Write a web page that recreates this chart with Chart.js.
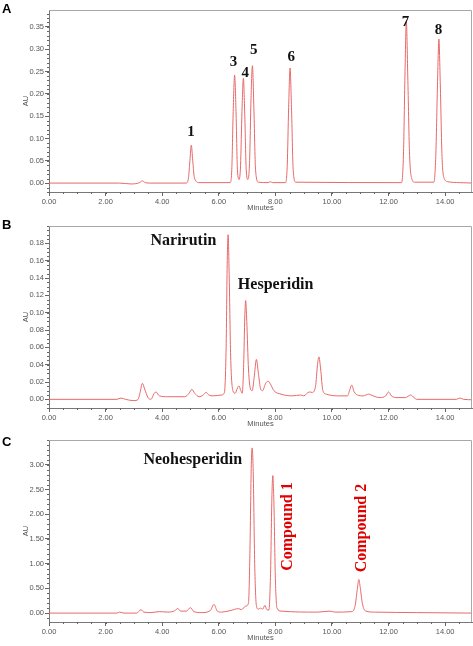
<!DOCTYPE html>
<html>
<head>
<meta charset="utf-8">
<script src="https://cdn.jsdelivr.net/npm/chart.js@4/dist/chart.umd.min.js"></script>
<style>
  body { margin: 0; background: #fff; width: 473px; height: 646px; position: relative; overflow: hidden; }
  .panel { position: absolute; left: 0; width: 473px; }
  .tag { position: absolute; left: 2px; font: bold 13px "Liberation Sans", Arial, sans-serif; color: #000; }
</style>
</head>
<body>
<div class="panel" style="top:0;height:214px"><canvas id="chartA" width="473" height="214"></canvas></div>
<div class="panel" style="top:214px;height:214px"><canvas id="chartB" width="473" height="214"></canvas></div>
<div class="panel" style="top:428px;height:218px"><canvas id="chartC" width="473" height="218"></canvas></div>
<div class="tag" style="top:1px">A</div>
<div class="tag" style="top:217px">B</div>
<div class="tag" style="top:434px">C</div>
<script>
// shared time axis ticks (minutes)
var xTicks = [0, 2, 4, 6, 8, 10, 12, 14];

// panel A: standard mixture
var timeA = [0, 2.5, 2.9, 3.2, 3.3, 3.4, 3.6, 4.85, 4.93, 4.98, 5.03, 5.08, 5.14, 5.3,
  6.4, 6.46, 6.51, 6.56, 6.61, 6.66, 6.72, 6.77, 6.82, 6.87, 6.92, 6.97, 7.03, 7.09, 7.14, 7.19, 7.24, 7.3, 7.4,
  7.75, 7.82, 7.9, 8.36, 8.42, 8.47, 8.52, 8.57, 8.63, 8.72,
  12.46, 12.53, 12.58, 12.63, 12.68, 12.74, 12.82, 12.92,
  13.6, 13.67, 13.73, 13.78, 13.83, 13.89, 13.97, 14.1, 14.5, 15];
var auA = [0, 0, -0.002, 0.001, 0.005, 0.001, 0, 0, 0.012, 0.05, 0.085, 0.05, 0.012, 0.001,
  0.001, 0.03, 0.16, 0.242, 0.16, 0.03, 0.008, 0.04, 0.16, 0.235, 0.15, 0.03, 0.008, 0.05, 0.19, 0.263, 0.17, 0.03, 0.002,
  0.001, 0.003, 0.001, 0.001, 0.04, 0.17, 0.258, 0.17, 0.03, 0.002,
  0.001, 0.07, 0.24, 0.362, 0.24, 0.07, 0.01, 0.002,
  0.002, 0.06, 0.22, 0.323, 0.22, 0.06, 0.01, 0.003, 0.001, 0];
var yTicksA = [0, 0.05, 0.1, 0.15, 0.2, 0.25, 0.3, 0.35];

// panel B: sample extract
var timeB = [0, 2.4, 2.55, 2.7, 3.0, 3.15, 3.22, 3.3, 3.38, 3.5, 3.6, 3.72, 3.78, 3.9, 4.2, 4.8,
  4.95, 5.05, 5.15, 5.3, 5.45, 5.55, 5.65, 5.8, 6.1, 6.2, 6.26, 6.3, 6.33, 6.37, 6.42, 6.5,
  6.58, 6.66, 6.71, 6.78, 6.83, 6.88, 6.92, 6.95, 6.99, 7.05, 7.12, 7.18, 7.25, 7.33, 7.4, 7.48,
  7.55, 7.65, 7.74, 7.82, 7.95, 8.2, 8.6, 8.9, 9.0, 9.2, 9.3, 9.42, 9.49, 9.54, 9.6, 9.68, 9.8,
  10.2, 10.55, 10.63, 10.7, 10.78, 10.9, 11.1, 11.3, 11.45, 11.7, 11.9, 12.0, 12.1, 12.3, 12.6,
  12.78, 12.9, 13.0, 14.4, 14.52, 14.65, 15];
var auB = [0, 0, 0.0015, 0, -0.0015, 0, 0.008, 0.0185, 0.012, 0.002, 0, 0.007, 0.0085, 0.004, 0.003, 0.003,
  0.007, 0.0115, 0.007, 0.003, 0.005, 0.008, 0.005, 0.004, 0.005, 0.008, 0.06, 0.16, 0.19, 0.14, 0.05, 0.01,
  0.007, 0.013, 0.0155, 0.01, 0.007, 0.04, 0.095, 0.114, 0.09, 0.035, 0.012, 0.01, 0.025, 0.046, 0.03, 0.012,
  0.01, 0.018, 0.021, 0.018, 0.01, 0.006, 0.004, 0.005, 0.004, 0.0085, 0.008, 0.015, 0.04, 0.049, 0.035, 0.01, 0.006,
  0.004, 0.004, 0.011, 0.0165, 0.009, 0.005, 0.004, 0.006, 0.004, 0.002, 0.004, 0.0085, 0.004, 0.002, 0.002,
  0.005, 0.002, 0, 0, 0.0015, 0, -0.0005];
var yTicksB = [0, 0.02, 0.04, 0.06, 0.08, 0.1, 0.12, 0.14, 0.16, 0.18];

// panel C: neohesperidin sample
var timeC = [0, 2.4, 2.5, 2.65, 3.1, 3.25, 3.35, 3.6, 3.9, 4.2, 4.45, 4.55, 4.65, 4.85, 5.0, 5.12,
  5.4, 5.7, 5.83, 5.95, 6.1, 6.4, 6.7, 6.8, 6.95, 7.05, 7.1, 7.15, 7.18, 7.22, 7.27, 7.33,
  7.4, 7.48, 7.55, 7.63, 7.7, 7.77, 7.83, 7.88, 7.91, 7.95, 8.0, 8.06, 8.2, 9.5, 9.93, 10.1,
  10.7, 10.82, 10.9, 10.95, 11.0, 11.08, 11.2, 11.5, 13, 15];
var auC = [0, 0, 0.02, 0, 0, 0.07, 0.02, 0.01, 0.03, 0.02, 0.05, 0.095, 0.04, 0.04, 0.11, 0.03,
  0.01, 0.05, 0.175, 0.04, 0.02, 0.05, 0.09, 0.07, 0.14, 0.2, 1.2, 3.0, 3.34, 2.8, 1.0, 0.15,
  0.08, 0.1, 0.08, 0.155, 0.07, 0.06, 0.8, 2.4, 2.78, 2.2, 0.7, 0.1, 0.04, 0.02, 0.04, 0.02,
  0.03, 0.15, 0.5, 0.68, 0.52, 0.18, 0.04, 0.02, 0.01, 0];
var yTicksC = [0, 0.5, 1, 1.5, 2, 2.5, 3];

var lineColor = 'rgb(232,104,104)';
var tickFont = { family: '"Liberation Sans", Arial, sans-serif', size: 7.5 };
var serif = '"Liberation Serif", "Times New Roman", serif';

// peak labels, placed in data units
var labelsA = [
  { t: '1', x: 5.02, y: 0.115 }, { t: '3', x: 6.52, y: 0.272 }, { t: '4', x: 6.94, y: 0.246 },
  { t: '5', x: 7.24, y: 0.297 }, { t: '6', x: 8.56, y: 0.283 }, { t: '7', x: 12.6, y: 0.361 },
  { t: '8', x: 13.77, y: 0.343 }
].map(function (l) { l.size = 15; return l; });
var labelsB = [
  { t: 'Narirutin', x: 4.75, y: 0.183, size: 16 },
  { t: 'Hesperidin', x: 8.01, y: 0.132, size: 16 }
];
var labelsC = [
  { t: 'Neohesperidin', x: 5.08, y: 3.09, size: 16 },
  { t: 'Compound 1', x: 8.45, y: 1.75, size: 16, color: '#e00000', rot: true },
  { t: 'Compound 2', x: 11.05, y: 1.72, size: 16, color: '#e00000', rot: true }
];

var decor = {
  id: 'decor',
  afterDraw: function (chart, args, o) {
    var c = chart.ctx, a = chart.chartArea, xs = chart.scales.x, ys = chart.scales.y, v, p;
    c.save();
    c.strokeStyle = '#a8a8a8';
    c.lineWidth = 1;
    c.beginPath();
    c.moveTo(a.left, a.top + 0.5); c.lineTo(a.right - 0.5, a.top + 0.5); c.lineTo(a.right - 0.5, a.bottom);
    c.stroke();
    // minor ticks
    c.strokeStyle = '#666';
    c.beginPath();
    for (v = 0; v <= xs.max + 1e-9; v += 0.5) {
      p = Math.round(xs.getPixelForValue(v)) + 0.5;
      c.moveTo(p, a.bottom); c.lineTo(p, a.bottom + 2);
    }
    for (v = 0; v <= ys.max + 1e-9; v += o.minor) {
      p = Math.round(ys.getPixelForValue(v)) + 0.5;
      c.moveTo(a.left, p); c.lineTo(a.left - 2, p);
    }
    for (v = -o.minor; v >= ys.min - 1e-9; v -= o.minor) {
      p = Math.round(ys.getPixelForValue(v)) + 0.5;
      c.moveTo(a.left, p); c.lineTo(a.left - 2, p);
    }
    c.stroke();
    // labels
    o.labels.forEach(function (l) {
      var px = xs.getPixelForValue(l.x), py = ys.getPixelForValue(l.y);
      c.save();
      c.translate(px, py);
      if (l.rot) c.rotate(-Math.PI / 2);
      c.fillStyle = l.color || '#111';
      c.font = 'bold ' + l.size + 'px ' + serif;
      c.textAlign = 'center';
      c.textBaseline = 'middle';
      c.fillText(l.t, 0, 0);
      c.restore();
    });
    c.restore();
  }
};

function makeChart(id, time, au, yTicks, ymin, ymax, minor, pad, labels) {
  var pts = time.map(function (t, i) { return { x: t, y: au[i] }; });
  return new Chart(document.getElementById(id), {
    type: 'line',
    data: { datasets: [{ data: pts, borderColor: lineColor, borderWidth: 1, pointRadius: 0, cubicInterpolationMode: 'monotone' }] },
    options: {
      responsive: false,
      animation: false,
      layout: { padding: { top: pad[0], right: 1, bottom: pad[1], left: 21 } },
      plugins: { legend: { display: false }, tooltip: { enabled: false }, decor: { minor: minor, labels: labels } },
      scales: {
        x: {
          type: 'linear', min: 0, max: 14.95,
          afterBuildTicks: function (s) { s.ticks = xTicks.map(function (v) { return { value: v }; }); },
          afterFit: function (s) { s.height = 20; },
          ticks: { font: tickFont, color: '#555', padding: 1, maxRotation: 0, autoSkip: false, callback: function (v) { return v.toFixed(2); } },
          grid: { drawOnChartArea: false, tickLength: 4, color: '#666' },
          border: { color: '#777' },
          title: { display: true, text: 'Minutes', font: tickFont, color: '#555', padding: 0 }
        },
        y: {
          min: ymin, max: ymax,
          afterBuildTicks: function (s) { s.ticks = yTicks.map(function (v) { return { value: v }; }); },
          afterFit: function (s) { s.width = 28; },
          ticks: { font: tickFont, color: '#555', padding: 1, autoSkip: false, callback: function (v) { return v.toFixed(2); } },
          grid: { drawOnChartArea: false, tickLength: 4, color: '#666' },
          border: { color: '#777' },
          title: { display: true, text: 'AU', font: tickFont, color: '#555', padding: 0 }
        }
      }
    },
    plugins: [decor]
  });
}

makeChart('chartA', timeA, auA, yTicksA, -0.02, 0.388, 0.01, [10, 2], labelsA);
makeChart('chartB', timeB, auB, yTicksB, -0.01, 0.2, 0.005, [12, 0], labelsB);
makeChart('chartC', timeC, auC, yTicksC, -0.18, 3.5, 0.1, [12, 4], labelsC);
</script>
</body>
</html>
